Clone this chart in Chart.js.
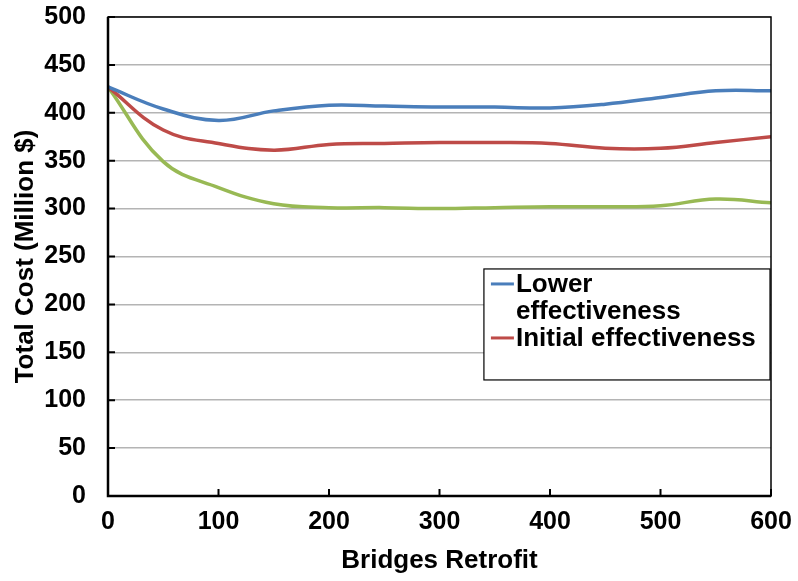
<!DOCTYPE html>
<html>
<head>
<meta charset="utf-8">
<script src="https://cdn.jsdelivr.net/npm/chart.js@4.4.0/dist/chart.umd.min.js"></script>
<style>
    html, body { margin: 0; padding: 0; background: #fff; }
    #wrap { width: 798px; height: 581px; }
</style>
</head>
<body>
<div id="wrap"><canvas id="graficoCostos"></canvas></div>
<script>
// bridges retrofitted (x) and total cost in million $ per scenario
const retrofit = [0, 50, 100, 150, 200, 250, 300, 350, 400, 450, 500, 550, 600];
const lowerEff = [427, 404, 392, 402, 408, 407, 406, 406, 405, 409, 416, 423, 423];
const initialEff = [427, 382, 368, 361, 367, 368, 369, 369, 368, 363, 363, 369, 375];
const higherEff = [427, 349, 322, 305, 301, 301, 300, 301, 302, 302, 303, 310, 306];
const seriesNames = ['Lower effectiveness', 'Initial effectiveness', 'Higher effectiveness'];
const legendLines = [['Lower', 'effectiveness'], ['Initial effectiveness']];
const yTicks = [0, 50, 100, 150, 200, 250, 300, 350, 400, 450, 500];
const xTicks = [0, 100, 200, 300, 400, 500, 600];

const colores = ['#4a7ebb', '#be4b48', '#98b954'];
const fuente = "'Liberation Sans', Arial, sans-serif";

const puntos = vals => retrofit.map((x, i) => ({ x: x, y: vals[i] }));

// inward tick marks + frame + boxed legend, like the excel original
const marcoPlugin = {
    id: 'marco',
    afterDraw(chart) {
        const c = chart.ctx;
        const a = chart.chartArea;
        const sx = chart.scales.x;
        const sy = chart.scales.y;
        c.save();
        c.strokeStyle = '#000';
        c.lineWidth = 1.5;
        c.strokeRect(a.left, a.top, a.right - a.left, a.bottom - a.top);
        c.lineWidth = 2.5;
        c.beginPath();
        c.moveTo(a.left, a.top);
        c.lineTo(a.left, a.bottom);
        c.lineTo(a.right, a.bottom);
        c.stroke();
        c.lineWidth = 2;
        c.beginPath();
        yTicks.forEach(v => {
            const py = sy.getPixelForValue(v);
            c.moveTo(a.left, py);
            c.lineTo(a.left + 7, py);
        });
        xTicks.forEach(v => {
            const px = sx.getPixelForValue(v);
            c.moveTo(px, a.bottom);
            c.lineTo(px, a.bottom - 7);
        });
        c.stroke();

        // legend box
        const bx = a.left + (a.right - a.left) * 0.567;
        const by = a.top + (a.bottom - a.top) * 0.526;
        const bw = a.right - bx - 1;
        const bh = 111;
        c.fillStyle = '#fff';
        c.fillRect(bx, by, bw, bh);
        c.lineWidth = 1.2;
        c.strokeStyle = '#000';
        c.strokeRect(bx, by, bw, bh);
        c.font = 'bold 26px ' + fuente;
        c.fillStyle = '#000';
        c.textBaseline = 'alphabetic';
        let base = by + 23;
        legendLines.forEach((lineas, i) => {
            c.strokeStyle = colores[i];
            c.lineWidth = 3;
            c.beginPath();
            c.moveTo(bx + 7, base - 8);
            c.lineTo(bx + 30, base - 8);
            c.stroke();
            lineas.forEach(t => {
                c.fillText(t, bx + 32, base);
                base += 27;
            });
        });
        c.restore();
    }
};

new Chart(document.getElementById('graficoCostos'), {
    type: 'line',
    data: {
        datasets: [lowerEff, initialEff, higherEff].map((vals, i) => ({
            label: seriesNames[i],
            data: puntos(vals),
            borderColor: colores[i],
            backgroundColor: colores[i],
            borderWidth: 3.5,
            pointRadius: 0,
            tension: 0.4,
            fill: false
        }))
    },
    options: {
        responsive: true,
        maintainAspectRatio: false,
        animation: false,
        layout: {
            padding: { top: 17, right: 27, left: 0, bottom: 0 }
        },
        plugins: {
            legend: { display: false },
            tooltip: { enabled: false }
        },
        scales: {
            x: {
                type: 'linear',
                min: 0,
                max: 600,
                afterBuildTicks: s => { s.ticks = xTicks.map(v => ({ value: v })); },
                afterFit: s => { s.height = 85; },
                // spacing to labels via invisible tick length (padding would shrink the plot)
                grid: { display: false, drawTicks: true, tickLength: 11 },
                border: { display: false },
                ticks: {
                    color: '#000',
                    padding: 0,
                    maxRotation: 0,
                    font: { family: fuente, size: 25, weight: 'bold' }
                },
                title: {
                    display: true,
                    text: 'Bridges Retrofit',
                    color: '#000',
                    padding: { top: 0, bottom: 5 },
                    font: { family: fuente, size: 26, weight: 'bold' }
                }
            },
            y: {
                min: 0,
                max: 500,
                afterBuildTicks: s => { s.ticks = yTicks.map(v => ({ value: v })); },
                afterFit: s => { s.width = 108; },
                grid: { color: '#b4b4b4', lineWidth: 1.5, drawTicks: true, tickLength: 22, tickColor: 'rgba(0,0,0,0)' },
                border: { display: false },
                ticks: {
                    color: '#000',
                    padding: 0,
                    font: { family: fuente, size: 25, weight: 'bold' }
                },
                title: {
                    display: true,
                    text: 'Total Cost (Million $)',
                    color: '#000',
                    padding: { top: 10, bottom: 0 },
                    font: { family: fuente, size: 26, weight: 'bold' }
                }
            }
        }
    },
    plugins: [marcoPlugin]
});
</script>
</body>
</html>
